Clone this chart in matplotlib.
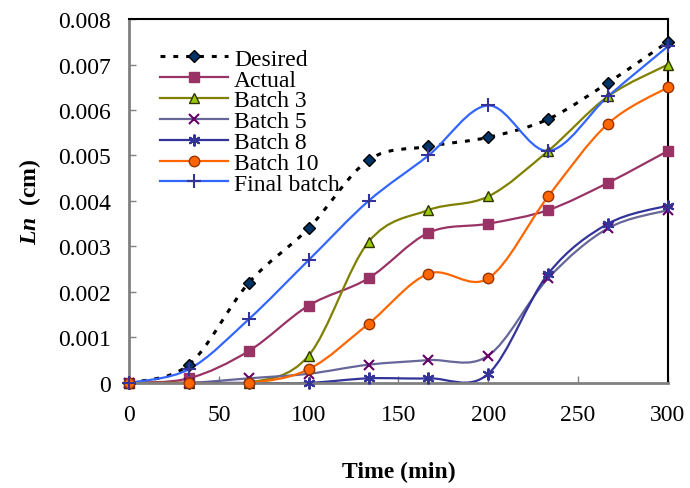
import matplotlib
matplotlib.use("Agg")
import matplotlib.pyplot as plt
import numpy as np
from matplotlib.path import Path
from matplotlib.patches import PathPatch
from matplotlib.lines import Line2D

plt.rcParams["font.family"] = ["Liberation Serif", "DejaVu Serif"]
plt.rcParams["mathtext.fontset"] = "custom"
plt.rcParams["mathtext.it"] = "Liberation Serif:italic:bold"
plt.rcParams["mathtext.bf"] = "Liberation Serif:bold"
plt.rcParams["mathtext.rm"] = "Liberation Serif:bold"

time_min = [0, 33.33, 66.67, 100, 133.33, 166.67, 200, 233.33, 266.67, 300]
desired = [0, 0.0004, 0.0022, 0.0034, 0.0049, 0.0052, 0.0054, 0.0058, 0.0066, 0.0075]
actual = [0, 0.0001, 0.0007, 0.0017, 0.0023, 0.0033, 0.0035, 0.0038, 0.0044, 0.0051]
batch3 = [0, 0, 0, 0.0006, 0.0031, 0.0038, 0.0041, 0.0051, 0.0063, 0.0070]
batch5 = [0, 0, 0.0001, 0.0002, 0.0004, 0.0005, 0.0006, 0.0023, 0.0034, 0.0038]
batch8 = [0, 0, 0, 0, 0.0001, 0.0001, 0.0002, 0.0024, 0.0035, 0.0039]
batch10 = [0, 0, 0, 0.0003, 0.0013, 0.0024, 0.0023, 0.0041, 0.0057, 0.0065]
final = [0, 0.0003, 0.0014, 0.0027, 0.0040, 0.0050, 0.0061, 0.0051, 0.0063, 0.0074]

# (label, values, line colour, line style, marker, marker face, marker edge, marker size)
series = [
    ("Desired", desired, "black", (0, (1.6, 2.6)), "D", "#003366", "black", 6.5),
    ("Actual", actual, "#993366", "-", "s", "#993366", "#993366", 7.5),
    ("Batch 3", batch3, "#808000", "-", "^", "#99CC00", "#333300", 7.5),
    ("Batch 5", batch5, "#666699", "-", "x", "#660066", "#660066", 7.5),
    ("Batch 8", batch8, "#333399", "-", (6, 2, 0), "#333399", "#333399", 8.5),
    ("Batch 10", batch10, "#FF6600", "-", "o", "#FF6600", "#993300", 7.5),
    ("Final batch", final, "#3366FF", "-", "+", "#333399", "#333399", 9.5),
]


def smooth_path(x, y):
    # Excel-style smoothed line: cubic Bezier through every point
    x = np.asarray(x, float); y = np.asarray(y, float)
    verts = [(x[0], y[0])]; codes = [Path.MOVETO]
    n = len(x)
    for i in range(n - 1):
        i0 = max(i - 1, 0); i3 = min(i + 2, n - 1)
        c1 = (x[i] + (x[i + 1] - x[i0]) / 6, y[i] + (y[i + 1] - y[i0]) / 6)
        c2 = (x[i + 1] - (x[i3] - x[i]) / 6, y[i + 1] - (y[i3] - y[i]) / 6)
        verts += [c1, c2, (x[i + 1], y[i + 1])]
        codes += [Path.CURVE4] * 3
    return Path(verts, codes)


fig = plt.figure(figsize=(6.9, 4.89), dpi=100)
ax = fig.add_axes([0.187, 0.215, 0.781, 0.744])

handles = []
for label, vals, lc, ls, mk, mf, me, ms in series:
    lw = 2.2 if label == "Desired" else 1.6
    mew = 1.5 if mk in ("x", "+", (6, 2, 0)) else 1.0
    patch = PathPatch(smooth_path(time_min, vals), facecolor="none", edgecolor=lc,
                      lw=lw, linestyle=ls, zorder=2)
    ax.add_patch(patch)
    ax.plot(time_min, vals, linestyle="none", marker=mk, mfc=mf, mec=me, ms=ms,
            mew=mew, zorder=3, clip_on=False)
    handles.append(Line2D([], [], color=lc, lw=lw, linestyle=ls, marker=mk, mfc=mf,
                          mec=me, ms=ms, mew=mew))

ax.set_xlim(0, 300)
ax.set_ylim(0, 0.008)
ax.set_xticks([0, 50, 100, 150, 200, 250, 300])
ax.set_yticks(np.arange(0, 0.0081, 0.001))
ax.set_yticklabels(["0", "0.001", "0.002", "0.003", "0.004", "0.005", "0.006", "0.007", "0.008"])
ax.tick_params(direction="in", length=5, width=1, color="#808080", labelsize=17)
ax.tick_params(axis="y", pad=13)
ax.tick_params(axis="x", pad=15)
for s in ("left", "bottom"):
    ax.spines[s].set_color("#808080"); ax.spines[s].set_linewidth(2)
for s in ("top", "right"):
    ax.spines[s].set_color("black"); ax.spines[s].set_linewidth(1.5)

ax.set_xlabel("Time (min)", fontsize=17, fontweight="bold", labelpad=26)
ax.set_ylabel(r"$\mathit{Ln}$  (cm)", fontsize=17, fontweight="bold", labelpad=11)

leg = ax.legend(handles, [s[0] for s in series], loc="upper left",
                bbox_to_anchor=(0.057, 0.92), frameon=False, fontsize=17,
                handlelength=2.9, numpoints=1, labelspacing=-0.03,
                handletextpad=0.25, borderaxespad=0, borderpad=0)

fig.savefig("out.png", dpi=100)
